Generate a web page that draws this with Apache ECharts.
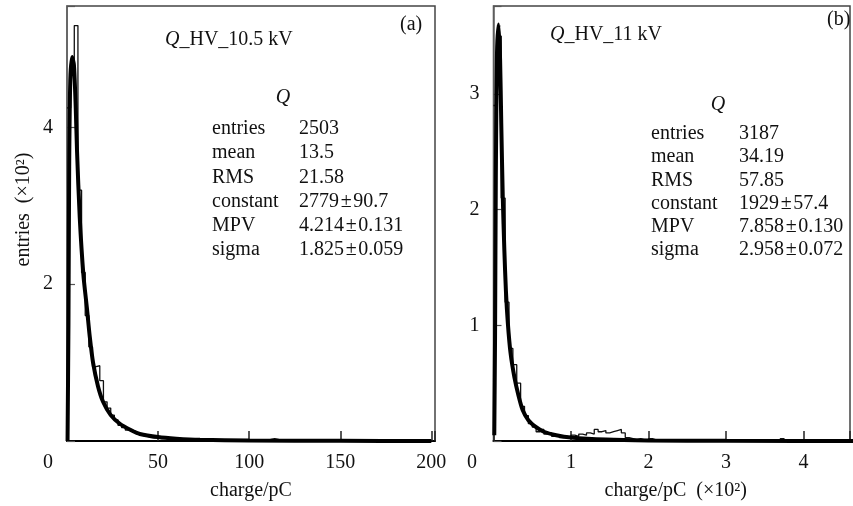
<!DOCTYPE html>
<html lang="zh">
<head>
    <meta charset="UTF-8">
    <title>Q 电荷分布</title>
    <script src="https://cdn.jsdelivr.net/npm/echarts@6/dist/echarts.min.js"></script>
    <style>
        body { margin: 0; background: #fff; }
        #main { width: 853px; height: 506px; }
    </style>
</head>
<body>
<div id="main"></div>
<script>
    // (a) HV 10.5 kV: histogram, 2 pC bins from 0, values in x10^2 entries
    var binWidthA = 2;
    var histA = [
        4.25, 4.75, 5.3, 3.2, 2.15, 1.6, 1.2, 0.95, 0.96, 0.77,
        0.5, 0.42, 0.33, 0.27, 0.2, 0.17, 0.14, 0.14, 0.12, 0.09,
        0.07, 0.06, 0.05, 0.04, 0.04, 0.03, 0.03, 0.02, 0.02, 0.02,
        0.01, 0.02, 0.01, 0.01, 0.01, 0.01, 0.01, 0, 0.01, 0,
        0, 0.01, 0, 0, 0, 0, 0, 0, 0, 0,
        0, 0, 0, 0, 0, 0.02, 0.03, 0.02, 0, 0,
        0, 0, 0, 0, 0, 0, 0, 0, 0, 0,
        0, 0.01, 0.01, 0.01, 0, 0, 0, 0, 0, 0,
        0, 0, 0, 0, 0, 0, 0, 0, 0, 0,
        0, 0, 0, 0, 0, 0, 0, 0, 0, 0
    ];
    // Landau fit curve
    var fitAx = [0.3, 0.8, 1.2, 1.8, 2.8, 3.8, 4.8, 5.5, 7, 9, 11, 12.5, 14.3, 17, 19.8, 24, 29, 35, 40, 50, 60, 73, 100, 150, 200];
    var fitAy = [0, 1.5, 3.5, 4.6, 4.9, 4.8, 4.25, 3.7, 2.85, 2.12, 1.68, 1.33, 1.0, 0.7, 0.5, 0.33, 0.22, 0.14, 0.09, 0.05, 0.03, 0.015, 0.006, 0.002, 0.001];
    var xTicksA = [0, 50, 100, 150, 200];
    var yTicksA = [2, 4];

    // (b) HV 11 kV: x in x10^2 pC, bins of 0.05
    var binWidthB = 0.05;
    var histB = [
        2.9, 3.5, 2.1, 1.2, 0.8, 0.66, 0.5, 0.3, 0.22, 0.15,
        0.12, 0.08, 0.1, 0.06, 0.07, 0.04, 0.05, 0.03, 0.04, 0.03,
        0.05, 0.04, 0.06, 0.05, 0.07, 0.06, 0.1, 0.08, 0.09, 0.07,
        0.08, 0.09, 0.1, 0.07, 0.03, 0.02, 0.01, 0.02, 0.01, 0,
        0.02, 0.01, 0.01, 0, 0.01, 0.01, 0, 0.01, 0.01, 0,
        0.01, 0, 0.01, 0, 0.01, 0, 0.01, 0, 0.01, 0,
        0, 0, 0, 0, 0, 0, 0, 0, 0.01, 0,
        0.01, 0, 0, 0, 0.02, 0, 0, 0, 0, 0,
        0, 0, 0, 0, 0, 0, 0, 0, 0, 0,
        0, 0, 0, 0, 0, 0, 0, 0, 0, 0
    ];
    var fitBx = [0.01, 0.02, 0.03, 0.045, 0.065, 0.085, 0.1, 0.12, 0.14, 0.16, 0.185, 0.22, 0.27, 0.32, 0.375, 0.45, 0.55, 0.65, 0.81, 1.0, 1.45, 2.0, 3.0, 5.0];
    var fitBy = [0.05, 0.9, 2.3, 3.35, 3.6, 3.3, 2.75, 2.1, 1.65, 1.3, 1.02, 0.76, 0.55, 0.4, 0.27, 0.18, 0.12, 0.08, 0.05, 0.03, 0.012, 0.005, 0.002, 0];
    var xTicksB = [0, 1, 2, 3, 4];
    var yTicksB = [1, 2, 3];

    // stats boxes
    var statsLabels = ['entries', 'mean', 'RMS', 'constant', 'MPV', 'sigma'];
    var statsValuesA = ['2503', '13.5', '21.58', '2779\u200a±\u200a90.7', '4.214\u200a±\u200a0.131', '1.825\u200a±\u200a0.059'];
    var statsValuesB = ['3187', '34.19', '57.85', '1929\u200a±\u200a57.4', '7.858\u200a±\u200a0.130', '2.958\u200a±\u200a0.072'];

    var FONT = "'Liberation Serif', 'Times New Roman', serif";

    function histLine(values, width) {
        var pts = values.map(function (v, i) { return [i * width, v]; });
        pts.push([values.length * width, values[values.length - 1]]);
        return pts;
    }
    function zip(xs, ys) {
        return xs.map(function (x, i) { return [x, ys[i]]; });
    }

    function xAxisCfg(idx, ticks, max, interval, zeroPad, name, namePad) {
        return {
            gridIndex: idx, type: 'value', min: 0, max: max, interval: interval,
            name: name, nameLocation: 'middle', nameGap: 40,
            nameTextStyle: { fontFamily: FONT, fontSize: 20, color: '#111', padding: namePad },
            axisLine: { lineStyle: { color: '#000', width: 2 } },
            axisTick: { inside: true, length: 10, lineStyle: { color: '#222', width: 1.5 } },
            splitLine: { show: false },
            axisLabel: {
                fontFamily: FONT, fontSize: 20, color: '#111', margin: 12,
                formatter: function (v) {
                    if (v === 0) return '{z|0}';
                    return ticks.indexOf(v) >= 0 ? String(v) : '';
                },
                rich: { z: { fontFamily: FONT, fontSize: 20, color: '#111', padding: [0, zeroPad, 0, 0] } }
            }
        };
    }
    function yAxisCfg(idx, ticks, max, interval, name) {
        return {
            gridIndex: idx, type: 'value', min: 0, max: max, interval: interval,
            name: name, nameLocation: 'middle', nameGap: 33,
            nameTextStyle: { fontFamily: FONT, fontSize: 20, color: '#111', padding: [0, 0, 0, 28] },
            axisLine: { lineStyle: { color: '#666', width: 1.5 } },
            axisTick: { inside: true, length: 8, lineStyle: { color: '#555', width: 1.2 } },
            splitLine: { show: false },
            axisLabel: {
                fontFamily: FONT, fontSize: 20, color: '#111', margin: 14,
                formatter: function (v) { return ticks.indexOf(v) >= 0 ? String(v) : ''; }
            }
        };
    }

    function statsGraphics(qx, qy, labelX, valueX, rowY, rowStep, values) {
        var els = [{
            type: 'text', x: qx, y: qy, silent: true,
            style: { text: 'Q', fontFamily: FONT, fontSize: 20, fontStyle: 'italic', fill: '#111', align: 'center', verticalAlign: 'middle' }
        }];
        statsLabels.forEach(function (lab, i) {
            els.push({
                type: 'text', x: labelX, y: rowY + i * rowStep, silent: true,
                style: { text: lab, fontFamily: FONT, fontSize: 20, fill: '#111', align: 'left', verticalAlign: 'middle' }
            });
            els.push({
                type: 'text', x: valueX, y: rowY + i * rowStep, silent: true,
                style: { text: values[i], fontFamily: FONT, fontSize: 20, fill: '#111', align: 'left', verticalAlign: 'middle' }
            });
        });
        return els;
    }
    function titleGraphic(x, y, text) {
        return {
            type: 'text', x: x, y: y, silent: true,
            style: {
                text: '{q|Q}' + text, fontFamily: FONT, fontSize: 20, fill: '#111', verticalAlign: 'middle',
                rich: { q: { fontFamily: FONT, fontSize: 20, fontStyle: 'italic', fill: '#111' } }
            }
        };
    }
    function plainText(x, y, text) {
        return {
            type: 'text', x: x, y: y, silent: true,
            style: { text: text, fontFamily: FONT, fontSize: 20, fill: '#111', verticalAlign: 'middle' }
        };
    }

    var graphics = []
        .concat([titleGraphic(165, 40, '_HV_10.5 kV'), plainText(400, 25, '(a)')])
        .concat(statsGraphics(283, 98, 212, 299, 129, 24.2, statsValuesA))
        .concat([titleGraphic(550, 35, '_HV_11 kV'), plainText(827, 20, '(b)')])
        .concat(statsGraphics(718, 105, 651, 739, 134, 23.2, statsValuesB));

    var chart = echarts.init(document.getElementById('main'), null, { renderer: 'canvas' });
    chart.setOption({
        animation: false,
        backgroundColor: '#fff',
        grid: [
            { left: 67, top: 6, width: 368, height: 438, show: true, borderColor: '#444', borderWidth: 1.5 },
            { left: 493.5, top: 6, width: 361, height: 438, show: true, borderColor: '#444', borderWidth: 1.5 }
        ],
        xAxis: [
            xAxisCfg(0, xTicksA, 202, 50, 38, 'charge/pC', [0, 0, 0, 0]),
            xAxisCfg(1, xTicksB, 4.6, 1, 43, 'charge/pC  (×10²)', [0, 0, 0, 8])
        ],
        yAxis: [
            yAxisCfg(0, yTicksA, 5.55, 2, 'entries  (×10²)'),
            yAxisCfg(1, yTicksB, 3.76, 1, '')
        ],
        graphic: graphics,
        series: [
            {
                type: 'line', xAxisIndex: 0, yAxisIndex: 0, step: 'end', showSymbol: false, silent: true,
                lineStyle: { color: '#111', width: 1.3 }, data: histLine(histA, binWidthA)
            },
            {
                type: 'line', xAxisIndex: 0, yAxisIndex: 0, smooth: 0.25, showSymbol: false, silent: true,
                lineStyle: { color: '#000', width: 4 }, data: zip(fitAx, fitAy)
            },
            {
                type: 'line', xAxisIndex: 1, yAxisIndex: 1, step: 'end', showSymbol: false, silent: true,
                lineStyle: { color: '#111', width: 1.3 }, data: histLine(histB, binWidthB)
            },
            {
                type: 'line', xAxisIndex: 1, yAxisIndex: 1, smooth: 0.25, showSymbol: false, silent: true,
                lineStyle: { color: '#000', width: 4 }, data: zip(fitBx, fitBy)
            }
        ]
    });
</script>
</body>
</html>
